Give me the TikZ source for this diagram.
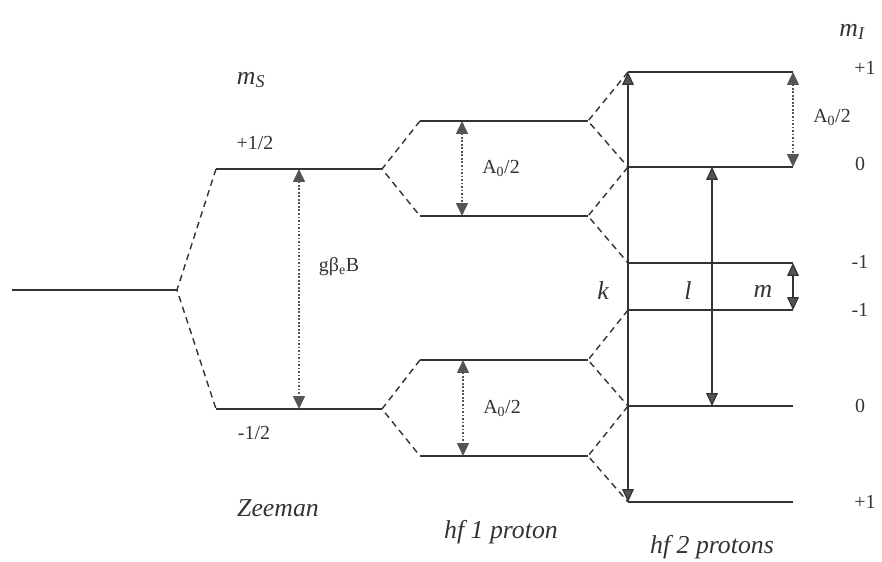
\documentclass[tikz,border=0pt]{standalone}
\usepackage{fontspec}
\setmainfont{Liberation Serif}
\usetikzlibrary{
arrows.meta,
positioning
}
\definecolor{linegray}{HTML}{333333}
\definecolor{tipgray}{HTML}{555555}

\begin{document}
\begin{tikzpicture}[
x=0.03cm, y=-0.03cm,
level/.style={draw=linegray, line width=1.2pt},
split/.style={draw=linegray, line width=1.2pt, dash pattern=on 5.5pt off 4pt},
gap/.style={draw=tipgray, line width=1.8pt, dash pattern=on 1.5pt off 1.5pt,
  {Triangle[length=11pt,width=10pt,fill=tipgray]}-{Triangle[length=11pt,width=10pt,fill=tipgray]}},
trans/.style={draw=linegray, line width=1.1pt,
  {Triangle[length=11pt,width=10pt,fill=tipgray]}-{Triangle[length=11pt,width=10pt,fill=tipgray]}},
lbl/.style={font=\fontsize{17}{19}\selectfont, text=linegray, inner sep=0pt},
ttl/.style={font=\fontsize{22}{24}\selectfont\itshape, text=linegray, inner sep=0pt}
]
\useasboundingbox (0,0) rectangle (882,562);

% levels
\coordinate (g0) at (12,290);   \coordinate (g1) at (177,290);
\coordinate (zu0) at (216,169); \coordinate (zu1) at (382,169);
\coordinate (zd0) at (216,409); \coordinate (zd1) at (382,409);
\coordinate (ha0) at (420,121); \coordinate (ha1) at (588,121);
\coordinate (hb0) at (420,216); \coordinate (hb1) at (588,216);
\coordinate (hc0) at (420,360); \coordinate (hc1) at (588,360);
\coordinate (hd0) at (420,456); \coordinate (hd1) at (588,456);
\foreach \n/\y in {1/72, 2/167, 3/263, 4/310, 5/406, 6/502} {
  \coordinate (p\n0) at (628,\y);
  \coordinate (p\n1) at (793,\y);
}

\draw[level] (g0) -- (g1);
\draw[level] (zu0) -- (zu1);
\draw[level] (zd0) -- (zd1);
\foreach \s in {ha, hb, hc, hd} \draw[level] (\s0) -- (\s1);
\foreach \n in {1,...,6} \draw[level] (p\n0) -- (p\n1);

% splittings
\draw[split] (zu0) -- (g1) -- (zd0);
\draw[split] (ha0) -- (zu1) -- (hb0);
\draw[split] (hc0) -- (zd1) -- (hd0);
\draw[split] (p10) -- (ha1) -- (p20);
\draw[split] (p20) -- (hb1) -- (p30);
\draw[split] (p40) -- (hc1) -- (p50);
\draw[split] (p50) -- (hd1) -- (p60);

% gaps
\coordinate (zgT) at (299,169); \coordinate (zgB) at (299,409);
\coordinate (h1T) at (462,121); \coordinate (h1B) at (462,216);
\coordinate (h2T) at (463,360); \coordinate (h2B) at (463,456);
\coordinate (kT) at (628,72);   \coordinate (kB) at (628,502);
\coordinate (lT) at (712,167);  \coordinate (lB) at (712,406);
\draw[gap] (zgT) -- (zgB);
\draw[gap] (h1T) -- (h1B);
\draw[gap] (h2T) -- (h2B);
\draw[gap] (p11) -- (p21);
\draw[trans] (kT) -- (kB);
\draw[trans] (lT) -- (lB);
\draw[trans] (p31) -- (p41);

% labels
\node[ttl] (mS) at (251,80) {m\textsubscript{S}};
\node[ttl] (mI) at (852,32) {m\textsubscript{I}};
\node[lbl] (zup) at (255,143) {+1/2};
\node[lbl] (zdn) at (254,433) {-1/2};
\node[lbl] (zeem) at (339,267) {gβ\textsubscript{e}B};
\node[lbl] (a1) at (501,168) {A\textsubscript{0}/2};
\node[lbl] (a2) at (502,408) {A\textsubscript{0}/2};
\node[lbl] (a3) at (832,117) {A\textsubscript{0}/2};
\node[lbl] (r1) at (865,68) {+1};
\node[lbl] (r2) at (860,164) {0};
\node[lbl] (r3) at (860,262) {-1};
\node[lbl] (r4) at (860,310) {-1};
\node[lbl] (r5) at (860,406) {0};
\node[lbl] (r6) at (865,502) {+1};
\node[ttl] (kk) at (603,291) {k};
\node[ttl] (ll) at (688,291) {l};
\node[ttl] (mm) at (763,291) {m};
\node[ttl] (tz) at (278,508) {Zeeman};
\node[ttl] (th1) at (501,532) {hf 1 proton};
\node[ttl] (th2) at (712,547) {hf 2 protons};

\end{tikzpicture}
\end{document}
